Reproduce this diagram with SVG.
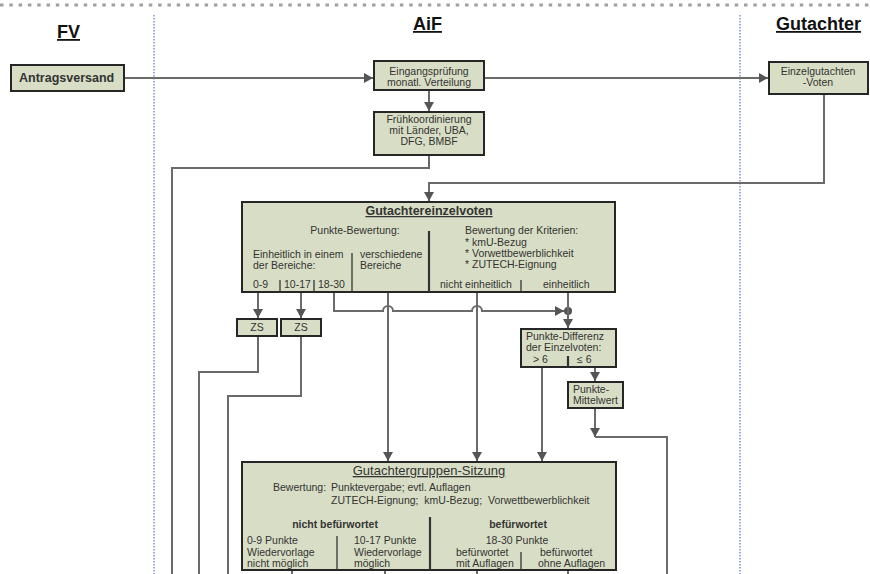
<svg xmlns="http://www.w3.org/2000/svg" width="870" height="574" viewBox="0 0 870 574">
<defs>
<marker id="arr" markerUnits="userSpaceOnUse" markerWidth="10" markerHeight="10" refX="9" refY="5" orient="auto">
<path d="M0,0 L9,5 L0,10 z" fill="#555"/>
</marker>
<style>
.box{fill:#d8dec5;stroke:#262626;stroke-width:2}
.c{fill:none;stroke:#6a6a6a;stroke-width:2}
.ca{fill:none;stroke:#6a6a6a;stroke-width:2;marker-end:url(#arr)}
.div{stroke:#333;stroke-width:1.3}
.divb{stroke:#333;stroke-width:2.2}
text{font-family:"Liberation Sans",Arial,sans-serif;fill:#333;font-size:10.5px}
.lane{font-size:18px;font-weight:bold;fill:#111;text-decoration:underline}
.m{text-anchor:middle}
.b{font-weight:bold}
</style>
</defs>
<rect width="870" height="574" fill="#fff"/>
<g id="lanes">
<line x1="0" y1="5" x2="870" y2="5" stroke="#a0a0a0" stroke-width="3" stroke-dasharray="3.5 5.8"/>
<line x1="154" y1="15" x2="154" y2="574" stroke="#7f8fd0" stroke-width="1.5" stroke-dasharray="1.5 1.5"/>
<line x1="740" y1="15" x2="740" y2="574" stroke="#7f8fd0" stroke-width="1.5" stroke-dasharray="1.5 1.5"/>
<text class="lane" x="57" y="38">FV</text>
<text class="lane" x="413" y="30">AiF</text>
<text class="lane" x="776" y="30">Gutachter</text>
</g>
<g id="connectors">
<path class="ca" d="M124,78 H373"/>
<path class="ca" d="M484,78 H768"/>
<path class="ca" d="M429,90 V111"/>
<path class="c" d="M429,155 V168 H172 V574"/>
<path class="ca" d="M824,95 V183 H429 V201"/>
<path class="ca" d="M258,292 V318"/>
<path class="ca" d="M301,292 V318"/>
<path class="c" d="M258,336 V372 H199 V574"/>
<path class="c" d="M301,336 V396 H228 V574"/>
<path class="ca" d="M334,292 V311 H383 A5,5 0 0 1 393,311 H472 A5,5 0 0 1 482,311 H564"/>
<circle cx="568" cy="311" r="4" fill="#555"/>
<path class="ca" d="M568,292 V328"/>
<path class="ca" d="M388,292 V461"/>
<path class="ca" d="M477,292 V461"/>
<path class="ca" d="M542,368 V461"/>
<path class="ca" d="M595,368 V381"/>
<path class="ca" d="M595,408 V437"/>
<path class="c" d="M595,437 H667 V574"/>
<path class="c" d="M292,570 V574 M385,570 V574 M477,570 V574 M568,570 V574"/>
</g>
<g id="antragsversand">
<rect class="box" x="11" y="65" width="113" height="26"/>
<text class="b" x="19" y="82" style="font-size:12.5px">Antragsversand</text>
</g>
<g id="eingangspruefung">
<rect class="box" x="374" y="61" width="110" height="29"/>
<text class="m" x="429" y="75">Eingangsprüfung</text>
<text class="m" x="429" y="86">monatl. Verteilung</text>
</g>
<g id="fruehkoordinierung">
<rect class="box" x="374" y="112" width="110" height="43"/>
<text class="m" x="429" y="123">Frühkoordinierung</text>
<text class="m" x="429" y="134">mit Länder, UBA,</text>
<text class="m" x="429" y="145">DFG, BMBF</text>
</g>
<g id="einzelgutachten">
<rect class="box" x="769" y="62" width="99" height="32"/>
<text class="m" x="818" y="75">Einzelgutachten</text>
<text class="m" x="818" y="86">-Voten</text>
</g>
<g id="gutachtereinzelvoten">
<rect class="box" x="242" y="202" width="373" height="90"/>
<text class="m b" x="429" y="215" style="font-size:12.5px;text-decoration:underline">Gutachtereinzelvoten</text>
<text class="m" x="355" y="234">Punkte-Bewertung:</text>
<line class="divb" x1="429" y1="231" x2="429" y2="292"/>
<text x="253" y="258">Einheitlich in einem</text>
<text x="253" y="269">der Bereiche:</text>
<line class="div" x1="352" y1="253" x2="352" y2="292"/>
<text x="360" y="258">verschiedene</text>
<text x="360" y="269">Bereiche</text>
<text x="253" y="288">0-9</text>
<line class="div" x1="280" y1="280" x2="280" y2="292"/>
<text x="284" y="288">10-17</text>
<line class="div" x1="314" y1="280" x2="314" y2="292"/>
<text x="318" y="288">18-30</text>
<text x="465" y="234">Bewertung der Kriterien:</text>
<text x="465" y="246">* kmU-Bezug</text>
<text x="465" y="257">* Vorwettbewerblichkeit</text>
<text x="465" y="268">* ZUTECH-Eignung</text>
<text x="440" y="288">nicht einheitlich</text>
<line class="div" x1="521" y1="280" x2="521" y2="292"/>
<text x="543" y="288">einheitlich</text>
</g>
<g id="zs1">
<rect class="box" x="237" y="319" width="40" height="17"/>
<text class="m" x="257" y="331">ZS</text>
</g>
<g id="zs2">
<rect class="box" x="281" y="319" width="40" height="17"/>
<text class="m" x="301" y="331">ZS</text>
</g>
<g id="punktedifferenz">
<rect class="box" x="521" y="329" width="95" height="38"/>
<text x="526" y="340">Punkte-Differenz</text>
<text x="526" y="351">der Einzelvoten:</text>
<text x="533" y="363">&gt; 6</text>
<line class="divb" x1="568" y1="356" x2="568" y2="367"/>
<text x="577" y="363">≤ 6</text>
</g>
<g id="punktemittelwert">
<rect class="box" x="568" y="382" width="55" height="26"/>
<text x="573" y="393">Punkte-</text>
<text x="573" y="404">Mittelwert</text>
</g>
<g id="gutachtergruppen">
<rect class="box" x="242" y="462" width="374" height="108"/>
<text class="m" x="429" y="475" style="font-size:13px;text-decoration:underline">Gutachtergruppen-Sitzung</text>
<text x="273" y="491">Bewertung:</text>
<text x="331" y="491">Punktevergabe; evtl. Auflagen</text>
<text x="331" y="504" xml:space="preserve">ZUTECH-Eignung;  kmU-Bezug;  Vorwettbewerblichkeit</text>
<text class="m b" x="335" y="528">nicht befürwortet</text>
<text class="m b" x="518" y="528">befürwortet</text>
<line class="divb" x1="430" y1="517" x2="430" y2="570"/>
<line class="div" x1="337" y1="536" x2="337" y2="570"/>
<text x="247" y="544">0-9 Punkte</text>
<text x="247" y="556">Wiedervorlage</text>
<text x="247" y="567">nicht möglich</text>
<text x="354" y="544">10-17 Punkte</text>
<text x="354" y="556">Wiedervorlage</text>
<text x="354" y="567">möglich</text>
<text class="m" x="517" y="544">18-30 Punkte</text>
<line class="div" x1="521" y1="552" x2="521" y2="570"/>
<text x="456" y="556">befürwortet</text>
<text x="456" y="567">mit Auflagen</text>
<text x="540" y="556">befürwortet</text>
<text x="538" y="567">ohne Auflagen</text>
</g>
</svg>
